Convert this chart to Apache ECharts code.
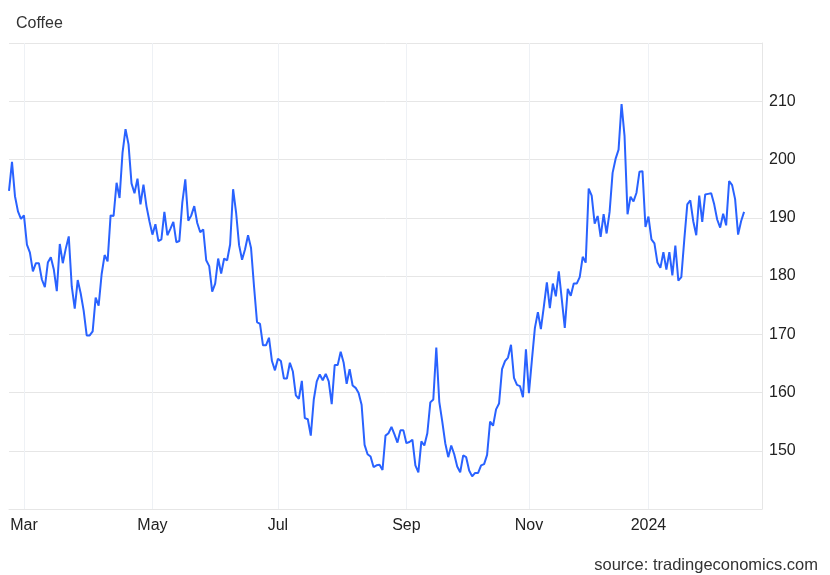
<!DOCTYPE html>
<html>
<head>
<meta charset="utf-8">
<script src="https://cdn.jsdelivr.net/npm/echarts@6/dist/echarts.min.js"></script>
<style>
html,body{margin:0;padding:0;background:#fff;}
#chart{width:830px;height:575px;}
</style>
</head>
<body>
<div id="chart"></div>
<script>
// Coffee price (USd/lb), one value per trading session, Feb 2023 – Feb 2024
const prices = [
  194.6,199.6,193.7,191.1,189.8,190.4,185.4,184.0,180.8,182.2,
  182.2,179.4,178.1,182.3,183.2,181.1,177.4,185.5,182.2,184.7,
  186.8,178.2,174.4,179.3,177.0,174.0,169.8,169.8,170.5,176.3,
  174.9,180.3,183.6,182.5,190.4,190.3,196.0,193.4,201.2,205.2,
  202.6,195.9,194.2,196.7,192.3,195.7,192.0,189.4,187.1,188.9,
  186.0,186.3,191.0,187.0,188.1,189.3,185.8,186.0,192.6,196.6,
  189.5,190.4,192.0,189.1,187.5,188.0,182.7,181.7,177.3,178.7,
  183.0,180.4,183.0,182.7,185.4,194.9,190.9,185.3,182.8,184.6,
  187.0,184.8,178.2,172.1,171.8,168.1,168.1,169.4,165.4,163.8,
  165.8,165.4,162.4,162.4,165.1,163.6,159.5,158.9,162.0,155.6,
  155.4,152.6,158.8,161.9,163.1,162.1,163.2,161.9,158.0,164.7,
  164.7,167.0,165.1,161.5,164.0,161.2,160.8,159.9,157.9,151.0,
  149.4,149.0,147.2,147.5,147.6,146.7,152.6,153.0,154.1,152.8,
  151.4,153.5,153.5,151.3,151.5,151.9,147.5,146.3,151.6,150.9,
  153.0,158.3,158.8,167.7,158.4,155.0,151.3,148.9,150.9,149.4,
  147.3,146.3,149.2,148.9,146.6,145.6,146.2,146.2,147.5,147.7,
  149.3,155.0,154.3,157.1,158.1,164.0,165.4,166.0,168.2,162.5,
  161.3,161.1,159.2,167.4,159.9,165.6,171.1,173.8,170.9,174.8,
  178.9,174.5,178.7,176.5,180.8,176.0,171.1,177.8,176.6,178.7,
  178.7,179.8,183.3,182.3,195.0,193.8,189.0,190.3,186.7,190.6,
  187.3,191.0,197.7,200.1,201.7,209.5,204.0,190.6,193.6,192.8,
  194.3,197.9,198.0,188.4,190.2,186.3,185.6,182.3,181.4,184.1,
  181.1,184.1,180.1,185.2,179.2,179.8,186.3,192.3,193.0,189.4,
  187.0,193.8,189.3,194.0,194.1,194.2,192.3,189.7,188.3,190.7,
  188.7,196.3,195.6,193.2,187.1,189.4,191.0
];
// month tick labels and the session index where each one falls
const tickLabels = ['Mar', 'May', 'Jul', 'Sep', 'Nov', '2024'];
const tickIndex  = [5, 48, 90, 133, 174, 214];
const padSessions = 6; // empty room at the right end of the axis
const yTicks = [150, 160, 170, 180, 190, 200, 210];

const cats = [];
for (let i = 0; i < prices.length + padSessions; i++) cats.push(String(i));
const isTick = (idx) => tickIndex.indexOf(idx) >= 0;

const chart = echarts.init(document.getElementById('chart'), null, {renderer: 'canvas'});
const FONT = '"Liberation Sans", Arial, Helvetica, sans-serif';
chart.setOption({
  animation: false,
  backgroundColor: '#ffffff',
  title: [{
    text: 'Coffee', left: 11, top: 11,
    textStyle: {fontFamily: FONT, fontSize: 16, fontWeight: 'normal', color: '#333333'}
  }, {
    text: 'source: tradingeconomics.com', right: 7, top: 552,
    textStyle: {fontFamily: FONT, fontSize: 16.5, fontWeight: 'normal', color: '#333333'}
  }],
  grid: {left: 9, right: 68, top: 43, bottom: 66, containLabel: false},
  xAxis: {
    type: 'category',
    data: cats,
    boundaryGap: false,
    axisLine: {show: true, lineStyle: {color: '#e6e6e6', width: 1}},
    axisTick: {show: false},
    axisLabel: {
      interval: (idx) => isTick(idx),
      formatter: (v, idx) => { const k = tickIndex.indexOf(Number(v)); return k >= 0 ? tickLabels[k] : ''; },
      margin: 9, fontFamily: FONT, fontSize: 16, color: '#222222'
    },
    splitLine: {show: true, interval: (idx) => isTick(idx), lineStyle: {color: '#eef1f5', width: 1}}
  },
  yAxis: {
    type: 'value', position: 'right',
    min: 140, max: 220, interval: 10,
    axisLine: {show: true, lineStyle: {color: '#e6e6e6', width: 1}},
    axisTick: {show: false},
    axisLabel: {
      margin: 7, fontFamily: FONT, fontSize: 16, color: '#222222',
      formatter: (v) => yTicks.indexOf(v) >= 0 ? String(v) : ''
    },
    splitLine: {show: true, lineStyle: {color: '#e6e6e6', width: 1}}
  },
  series: [{
    type: 'line',
    data: prices,
    showSymbol: false,
    symbol: 'none',
    smooth: false,
    lineStyle: {color: '#2962ff', width: 2},
    z: 3
  }]
});
</script>
</body>
</html>
